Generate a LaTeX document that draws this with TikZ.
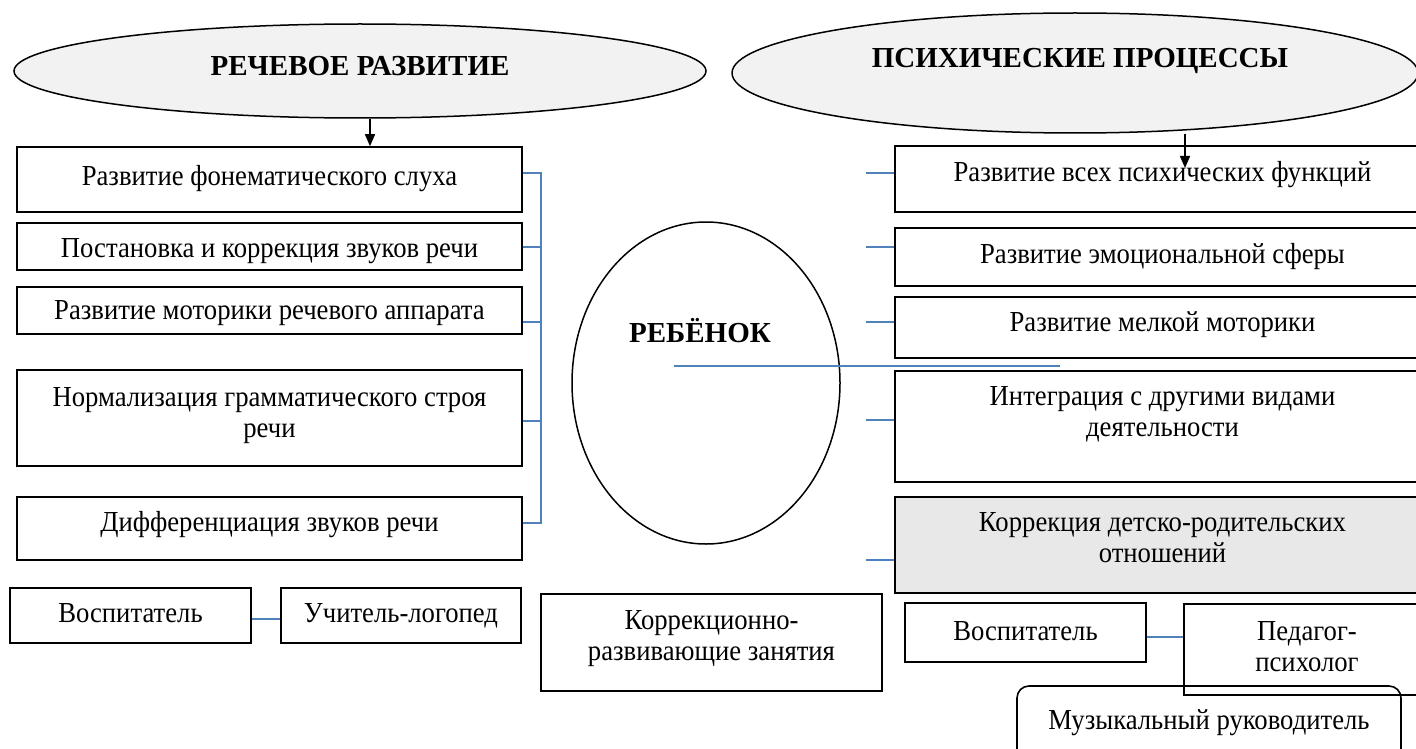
\documentclass[tikz,border=0pt]{standalone}
\usepackage{fontspec}
\setmainfont{Liberation Serif}[FakeStretch=0.92]
\newfontfamily\headfont{Liberation Serif}
\usetikzlibrary{shapes.geometric,arrows.meta}
\begin{document}
\begin{tikzpicture}[x=1pt,y=-1pt,
		box/.style={draw, line width=1.6pt, minimum width=505pt},
		rbox/.style={box, minimum width=535pt},
		txt/.style={anchor=base, align=center, inner sep=0pt, yshift=-35pt, font=\fontsize{29}{31}\selectfont},
		txttwo/.style={txt, yshift=-31pt},
		head/.style={ellipse, draw, line width=1.5pt, fill=headgray},
		headtxt/.style={font=\headfont\bfseries\fontsize{29}{31}\selectfont},
		link/.style={draw=linkblue, line width=1.5pt},
		arrow/.style={line width=1.5pt, -{Triangle[length=12pt,width=10pt]}}]
		\definecolor{linkblue}{HTML}{4F81BD}
		\definecolor{headgray}{HTML}{F2F2F2}
		\definecolor{boxgray}{HTML}{E8E8E8}
		\useasboundingbox[fill=white] (0,0) rectangle (1416,749);
		% two headers
		\node[head, minimum width=692pt, minimum height=94pt] (rech) at (360,71) {};
		\node[headtxt] (rechtxt) at (360,66) {РЕЧЕВОЕ РАЗВИТИЕ};
		\node[head, minimum width=686pt, minimum height=120pt] (psy) at (1075,73) {};
		\node[headtxt] (psytxt) at (1080,61) {ПСИХИЧЕСКИЕ ПРОЦЕССЫ};
		% the child
		\node[ellipse, draw, line width=1.5pt, minimum width=268pt, minimum height=322pt] (child) at (706,383) {};
		\node[headtxt] (childtxt) at (700,331) {РЕБЁНОК};
		% left column
		\node[box, minimum height=65pt, label={[txt, yshift=-4pt]north:Развитие фонематического слуха}] (f1) at (269.5,179.5) {};
		\node[box, minimum height=47pt, label={[txt]north:Постановка и коррекция звуков речи}] (f2) at (269.5,246.5) {};
		\node[box, minimum height=47pt, label={[txt, yshift=2pt]north:Развитие моторики речевого аппарата}] (f3) at (269.5,310.5) {};
		\node[box, minimum height=96pt, label={[txttwo, yshift=-2pt]north:Нормализация грамматического строя\\речи}] (f4) at (269.5,418) {};
		\node[box, minimum height=63pt, label={[txt]north:Дифференциация звуков речи}] (f5) at (269.5,528.5) {};
		% right column
		\node[rbox, minimum height=66pt, label={[txt, yshift=-1pt]north:Развитие всех психических функций}] (r1) at (1162.5,179) {};
		\node[rbox, minimum height=58pt, label={[txt, yshift=-1pt]north:Развитие эмоциональной сферы}] (r2) at (1162.5,257) {};
		\node[rbox, minimum height=61pt, label={[txt]north:Развитие мелкой моторики}] (r3) at (1162.5,327.5) {};
		\node[rbox, minimum height=111pt, label={[txttwo]north:Интеграция с другими видами\\деятельности}] (r4) at (1162.5,426.5) {};
		\node[rbox, fill=boxgray, minimum height=96pt, label={[txttwo]north:Коррекция детско-родительских\\отношений}] (r5) at (1162.5,545) {};
		% specialists
		\node[box, minimum width=241pt, minimum height=55pt, label={[txt]north:Воспитатель}] (vosp1) at (130.5,615.5) {};
		\node[box, minimum width=240pt, minimum height=55pt, label={[txt]north:Учитель-логопед}] (logo) at (401,615.5) {};
		\node[box, minimum width=341pt, minimum height=97pt, label={[txttwo, yshift=-1pt]north:Коррекционно-\\развивающие занятия}] (zan) at (711.5,642.5) {};
		\node[box, minimum width=241pt, minimum height=59pt, label={[txt, yshift=-3pt]north:Воспитатель}] (vosp2) at (1025.5,632.5) {};
		\node[box, minimum width=246pt, minimum height=91pt, label={[txttwo, yshift=-2pt]north:Педагог-\\психолог}] (psych) at (1307,649.5) {};
		\node[box, rounded corners=12pt, minimum width=384pt, minimum height=76pt, label={[txt, yshift=-9pt]north:Музыкальный руководитель}] (muz) at (1209,724) {};
		% arrows
		\draw[arrow] (rech.south -| 370,0) -- (f1.north -| 370,0);
		\draw[arrow] (psy.south -| 1185,0) -- (1185,168);
		% links
		\coordinate (lbtop) at (541,173);
		\coordinate (lbbot) at (541,523);
		\draw[link] (f1.east |- lbtop) -- (lbtop) -- (lbbot) -- (f5.east |- lbbot);
		\foreach \b/\y in {f2/247, f3/322, f4/421}{
				\draw[link] (\b.east |- 0,\y) -- (lbtop |- 0,\y);
			}
		\foreach \b/\y in {r1/173, r2/247, r3/322, r4/420, r5/560}{
				\draw[link] (\b.west |- 0,\y) -- ++(-28,0);
			}
		\coordinate (hl) at (674,366);
		\coordinate (hr) at (1060,366);
		\draw[link] (hl) -- (hr);
		\draw[link] (vosp1.east |- 0,619) -- (logo.west |- 0,619);
		\draw[link] (vosp2.east |- 0,637) -- (psych.west |- 0,637);
	\end{tikzpicture}
\end{document}
